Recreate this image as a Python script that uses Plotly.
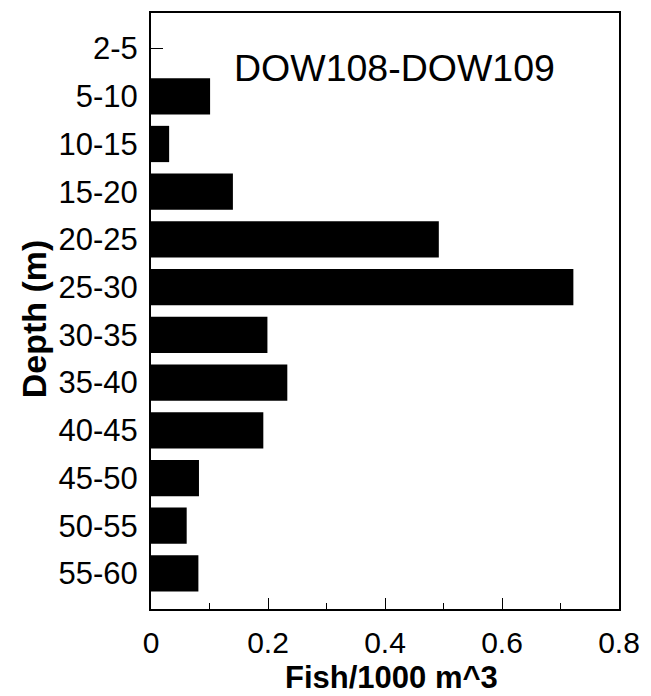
import plotly.graph_objects as go

depths = ["2-5", "5-10", "10-15", "15-20", "20-25", "25-30", "30-35",
          "35-40", "40-45", "45-50", "50-55", "55-60"]
fish = [0.0, 0.101, 0.031, 0.140, 0.492, 0.722, 0.199, 0.233, 0.192, 0.082, 0.061, 0.081]
x_ticks = [0, 0.2, 0.4, 0.6, 0.8]
x_tick_text = ["0", "0.2", "0.4", "0.6", "0.8"]

FONT = "Liberation Sans, Arial, sans-serif"

fig = go.Figure()
fig.add_trace(go.Bar(
    x=fish, y=depths, orientation="h",
    marker=dict(color="black", line=dict(width=0)),
    width=0.76,
))

fig.update_layout(
    width=651, height=696,
    margin=dict(l=151, r=23, t=11, b=87),
    paper_bgcolor="white", plot_bgcolor="white",
    showlegend=False,
    font=dict(family=FONT, color="black"),
    xaxis=dict(
        range=[0, 0.8], tickvals=x_ticks, ticktext=x_tick_text,
        ticks="inside", ticklen=11, tickwidth=1, tickcolor="black",
        minor=dict(ticks="inside", ticklen=6, tickwidth=1, tickcolor="black", dtick=0.1),
        showline=True, linecolor="black", linewidth=2, mirror=True,
        showgrid=False, zeroline=False,
        tickfont=dict(size=30, family=FONT), ticklabelstandoff=6,
    ),
    yaxis=dict(
        type="category", categoryorder="array", categoryarray=depths,
        range=[11.745, -0.745],
        ticks="inside", ticklen=12, tickwidth=1, tickcolor="black",
        showline=True, linecolor="black", linewidth=2, mirror=True,
        showgrid=False, zeroline=False,
        tickfont=dict(size=31, family=FONT), ticklabelstandoff=5,
    ),
    annotations=[
        dict(text="DOW108-DOW109", xref="paper", yref="paper", x=(399-151)/477, y=(609-66)/598,
             showarrow=False, font=dict(size=37.5, family=FONT), xanchor="center", yanchor="middle"),
        dict(text="<b>Fish/1000 m^3</b>", xref="paper", yref="paper", x=(396-151)/477, y=(609-678)/598,
             showarrow=False, font=dict(size=31, family=FONT), xanchor="center", yanchor="middle"),
        dict(text="<b>Depth (m)</b>", xref="paper", yref="paper", x=(32-151)/477, y=(609-318)/598,
             showarrow=False, textangle=-90, font=dict(size=34, family=FONT),
             xanchor="center", yanchor="middle"),
    ],
)

fig.write_html("out.html")
